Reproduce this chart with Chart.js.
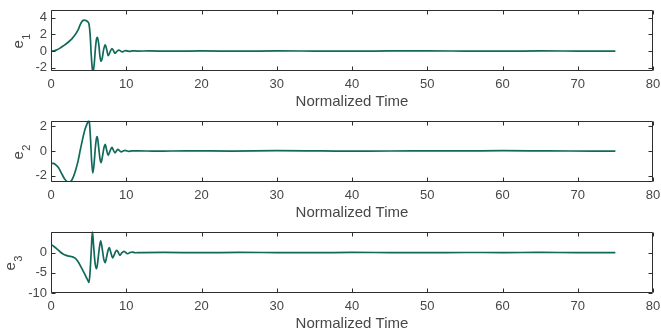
<!DOCTYPE html>
<html><head><meta charset="utf-8">
<script src="https://cdn.jsdelivr.net/npm/chart.js@4"></script>
<style>
html,body{margin:0;padding:0;background:#fff;}
#wrap{position:relative;width:661px;height:333px;overflow:hidden;}
.pan{position:absolute;left:0;width:661px;height:111px;}
</style></head><body>
<div id="wrap">
<div class="pan" style="top:0"><canvas id="c1"></canvas></div>
<div class="pan" style="top:111px"><canvas id="c2"></canvas></div>
<div class="pan" style="top:222px"><canvas id="c3"></canvas></div>
</div>
<script>
// ---- data ----
const xTicks = [0,10,20,30,40,50,60,70,80];
const xTitle = "Normalized Time";

const t1 = [0,0.4,0.8,1.2,1.6,2.0,2.4,2.8,3.2,3.6,3.9,4.15,4.4,4.7,4.95,5.05,5.2,5.35,5.5,5.6,5.75,5.9,6.05,6.18,6.35,6.5,6.65,6.8,7.0,7.2,7.4,7.6,7.85,8.1,8.3,8.5,8.75,9.0,9.25,9.45,9.7,9.95,10.2,10.45,10.8,11.5,13,16,20,25,30,35,40,45,50,55,60,65,70,75];
const e1 = [0,0.03,0.15,0.35,0.6,0.85,1.15,1.5,1.95,2.55,3.2,3.6,3.72,3.65,3.45,3.25,2.0,-0.5,-2.2,-2.45,-1.5,0.3,1.45,1.65,0.8,-0.6,-1.25,-0.9,0.2,0.75,0.2,-0.55,-0.1,0.3,0.05,-0.28,-0.05,0.12,0.0,-0.1,0.0,0.06,0.0,-0.04,0.02,0,0.01,-0.02,0.02,-0.02,0.02,0,-0.02,0.01,0.02,0,-0.02,0.02,0,-0.01];
const y1Ticks = [-2,0,2,4];

const t2 = [0,0.3,0.6,1.0,1.4,1.8,2.1,2.4,2.7,3.0,3.3,3.6,3.9,4.2,4.5,4.8,5.0,5.1,5.25,5.4,5.55,5.7,5.9,6.05,6.15,6.35,6.5,6.65,6.85,7.05,7.2,7.4,7.6,7.85,8.1,8.3,8.5,8.7,8.9,9.1,9.35,9.6,9.85,10.1,10.35,10.7,11.5,14,18,24,30,36,42,48,54,60,66,72,75];
const e2 = [-1.0,-1.0,-1.1,-1.35,-1.8,-2.25,-2.45,-2.5,-2.4,-2.05,-1.5,-0.8,0.1,0.95,1.7,2.2,2.42,2.3,1.0,-0.8,-1.78,-1.2,0.3,1.05,1.15,0.2,-0.6,-0.95,-0.4,0.3,0.53,0.05,-0.35,0.0,0.28,0.05,-0.15,0.0,0.13,0.03,-0.07,0.0,0.05,0.0,-0.03,0.0,0.01,-0.02,0.01,-0.01,0.02,0,-0.02,0.01,0,0.02,0,-0.01,-0.02];
const y2Ticks = [-2,0,2];

const t3 = [0,0.4,0.8,1.2,1.6,2.0,2.4,2.8,3.2,3.6,4.0,4.4,4.8,5.05,5.2,5.35,5.5,5.65,5.85,6.05,6.2,6.4,6.6,6.8,7.0,7.2,7.4,7.6,7.75,7.95,8.2,8.4,8.6,8.75,8.95,9.15,9.4,9.7,9.95,10.2,10.5,10.8,11.2,12,15,20,25,30,35,40,45,50,55,60,65,70,75];
const e3 = [2.0,1.5,0.85,0.2,-0.35,-0.7,-0.9,-1.05,-1.4,-2.3,-3.6,-5.0,-6.5,-7.4,-4.5,0.5,5.2,2.0,-2.5,-4.0,-2.5,0.8,2.9,1.0,-1.5,-2.5,-1.0,0.7,1.2,0.0,-1.3,-0.6,0.3,0.55,0.0,-0.7,-0.1,0.3,0.0,-0.3,0.0,0.12,-0.05,0.0,0.02,-0.02,0.02,0,-0.02,0.02,0,-0.02,0.01,0,0.02,-0.01,0];
const y3Ticks = [-10,-5,0];

// ---- styling ----
const LINE = '#11695a';
const AX = '#2e2e2e';
const TXT = '#474747';
Chart.defaults.font.family = "'Liberation Sans', Arial, sans-serif";
Chart.defaults.animation = false;

const boxPlugin = {
  id: 'boxTicks',
  afterDraw(chart) {
    const {ctx, chartArea: a, scales} = chart;
    const L = Math.round(a.left)+0.5, R = Math.round(a.right)-0.5;
    const T = Math.round(a.top)+0.5, B = Math.round(a.bottom)-0.5;
    ctx.save();
    ctx.strokeStyle = AX; ctx.lineWidth = 1;
    ctx.beginPath();
    ctx.rect(L, T, R-L, B-T);
    const tl = 4;
    scales.x.ticks.forEach(tk => {
      const px = Math.round(scales.x.getPixelForValue(tk.value))+0.5;
      ctx.moveTo(px, B); ctx.lineTo(px, B-tl);
      ctx.moveTo(px, T); ctx.lineTo(px, T+tl);
    });
    scales.y.ticks.forEach(tk => {
      const py = Math.round(scales.y.getPixelForValue(tk.value))+0.5;
      ctx.moveTo(L, py); ctx.lineTo(L+tl, py);
      ctx.moveTo(R, py); ctx.lineTo(R-tl, py);
    });
    ctx.stroke();
    // y label with subscript
    const o = chart.options.plugins.ylab;
    const cy = (a.top + a.bottom)/2;
    ctx.translate(o.x, cy);
    ctx.rotate(-Math.PI/2);
    ctx.fillStyle = TXT;
    ctx.textBaseline = 'alphabetic';
    ctx.textAlign = 'left';
    ctx.font = "15px 'Liberation Sans', Arial, sans-serif";
    const we = ctx.measureText('e').width;
    ctx.font = "11px 'Liberation Sans', Arial, sans-serif";
    const ws = ctx.measureText(o.sub).width;
    const start = -(we+ws)/2 - 1;
    ctx.font = "15px 'Liberation Sans', Arial, sans-serif";
    ctx.fillText('e', start, 0);
    ctx.font = "11px 'Liberation Sans', Arial, sans-serif";
    ctx.fillText(o.sub, start+we+0.5, 7);
    ctx.restore();
  }
};

function makeChart(id, ts, es, yMin, yMax, yTicks, sub, labX, top) {
  return new Chart(document.getElementById(id), {
    type: 'line',
    data: { datasets: [{
      data: ts.map((t,i)=>({x:t, y:es[i]})),
      borderColor: LINE, borderWidth: 1.7, pointRadius: 0,
      cubicInterpolationMode: 'monotone', fill: false
    }]},
    options: {
      responsive: true, maintainAspectRatio: false, animation: false,
      layout: { autoPadding: false, padding: { left: 0, right: 8, top: top, bottom: 0 } },
      plugins: { legend: {display:false}, tooltip:{enabled:false}, ylab: {x: labX, sub: sub} },
      scales: {
        x: {
          type: 'linear', min: 0, max: 80,
          afterBuildTicks: s => { s.ticks = xTicks.map(v=>({value:v})); },
          afterFit: s => { s.height = 40; s.paddingLeft = 0; s.paddingRight = 0; },
          grid: {display:false, drawTicks:false}, border:{display:false},
          ticks: { color: TXT, font:{size:13}, padding: 6, maxRotation:0 },
          title: { display:true, text: xTitle, color: TXT, font:{size:15}, padding: {top:0,bottom:0} }
        },
        y: {
          min: yMin, max: yMax,
          afterBuildTicks: s => { s.ticks = yTicks.map(v=>({value:v})); },
          afterFit: s => { s.width = 51; s.paddingTop = 0; s.paddingBottom = 0; },
          grid: {display:false, drawTicks:false}, border:{display:false},
          ticks: { color: TXT, font:{size:13}, padding: 4 }
        }
      }
    },
    plugins: [boxPlugin]
  });
}

makeChart('c1', t1, e1, -2.4, 5, y1Ticks, '1', 23, 9.5);
makeChart('c2', t2, e2, -2.5, 2.45, y2Ticks, '2', 23, 9.5);
makeChart('c3', t3, e3, -10, 5.2, y3Ticks, '3', 15, 9.5);
</script>
</body></html>
